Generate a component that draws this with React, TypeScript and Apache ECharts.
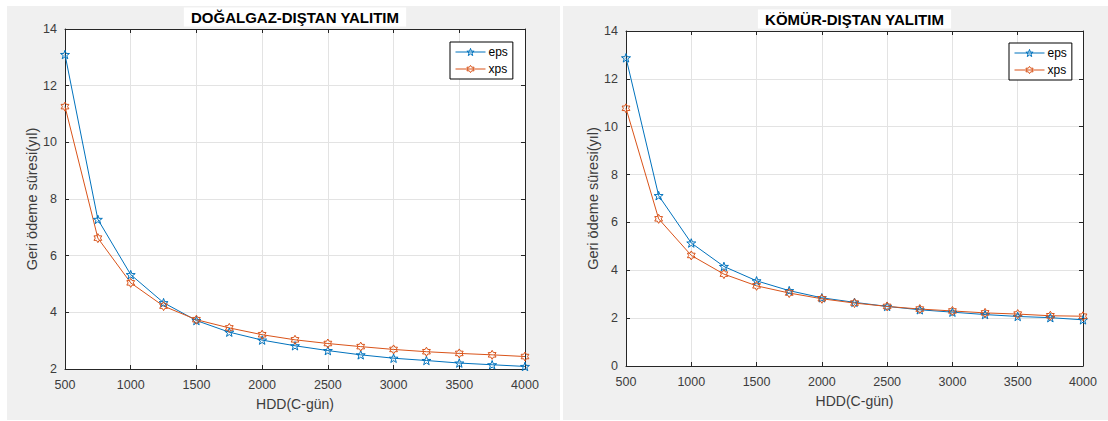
import React, { useEffect, useRef } from "react";
import * as echarts from "echarts";

const hdd = [500, 750, 1000, 1250, 1500, 1750, 2000, 2250, 2500, 2750, 3000, 3250, 3500, 3750, 4000];
const gasEps = [13.1, 7.28, 5.33, 4.34, 3.71, 3.3, 3.02, 2.82, 2.65, 2.5, 2.38, 2.3, 2.21, 2.15, 2.09];
const gasXps = [11.26, 6.62, 5.04, 4.22, 3.74, 3.45, 3.21, 3.03, 2.9, 2.79, 2.69, 2.61, 2.55, 2.5, 2.44];
const coalEps = [12.88, 7.12, 5.14, 4.16, 3.56, 3.15, 2.85, 2.66, 2.49, 2.35, 2.25, 2.15, 2.07, 2.02, 1.93];
const coalXps = [10.77, 6.15, 4.62, 3.84, 3.35, 3.05, 2.81, 2.63, 2.49, 2.38, 2.3, 2.22, 2.17, 2.1, 2.08];
const titles = ["DOĞALGAZ-DIŞTAN YALITIM", "KÖMÜR-DIŞTAN YALITIM"];
const xName = "HDD(C-gün)";
const yName = "Geri ödeme süresi(yıl)";

const BLUE = "#0072BD";
const ORANGE = "#D95319";
const AX = "#262626";
const LBL = "#3c3c3c";
const FONT = "Liberation Sans, Arial, sans-serif";

const STAR =
  "path://M0,-10 L2.35,-3.24 L9.51,-3.09 L3.8,1.24 L5.88,8.09 L0,4 L-5.88,8.09 L-3.8,1.24 L-9.51,-3.09 L-2.35,-3.24 Z";
const HEX =
  "path://M0,-10 L2.89,-5 L8.66,-5 L5.77,0 L8.66,5 L2.89,5 L0,10 L-2.89,5 L-8.66,5 L-5.77,0 L-8.66,-5 L-2.89,-5 Z";

const grids = [
  { left: 65, top: 29, width: 460, height: 340 },
  { left: 626, top: 31, width: 457, height: 335 },
];
const yRanges = [
  { min: 2, max: 14 },
  { min: 0, max: 14 },
];

export default function App() {
  const ref = useRef<HTMLDivElement>(null);
  useEffect(() => {
    if (!ref.current) return;
    const chart = echarts.init(ref.current, null, { renderer: "svg" });
    const xAxis: any[] = [];
    const yAxis: any[] = [];
    const series: any[] = [];
    const legend: any[] = [];
    const graphic: any[] = [
      { type: "rect", shape: { x: 7, y: 6, width: 553, height: 414 }, style: { fill: "#f0f0f0" }, z: -10 },
      { type: "rect", shape: { x: 563, y: 6, width: 545, height: 414 }, style: { fill: "#f0f0f0" }, z: -10 },
    ];
    const data = [
      [gasEps, gasXps],
      [coalEps, coalXps],
    ];
    grids.forEach((g, i) => {
      const xBase = {
        type: "value",
        gridIndex: i,
        min: 500,
        max: 4000,
        interval: 500,
        axisLine: { show: true, onZero: false, lineStyle: { color: AX, width: 1 } },
        axisTick: { show: true, inside: true, length: 4, lineStyle: { color: AX } },
      };
      xAxis.push({
        ...xBase,
        position: "bottom",
        name: xName,
        nameLocation: "middle",
        nameGap: 28,
        nameTextStyle: { fontSize: 14, color: LBL, fontFamily: FONT },
        axisLabel: { fontSize: 12.5, color: LBL, fontFamily: FONT, margin: 9, formatter: (v: number) => String(v) },
        splitLine: { show: true, lineStyle: { color: "#e3e3e3", width: 1 } },
      });
      xAxis.push({
        ...xBase,
        position: "top",
        axisLabel: { show: false },
        splitLine: { show: false },
      });
      const yBase = {
        type: "value",
        gridIndex: i,
        min: yRanges[i].min,
        max: yRanges[i].max,
        interval: 2,
        axisLine: { show: true, onZero: false, lineStyle: { color: AX, width: 1 } },
        axisTick: { show: true, inside: true, length: 4, lineStyle: { color: AX } },
      };
      yAxis.push({
        ...yBase,
        position: "left",
        name: yName,
        nameLocation: "middle",
        nameGap: i === 0 ? 26 : 24,
        nameTextStyle: { fontSize: 14.5, color: LBL, fontFamily: FONT },
        axisLabel: { fontSize: 12.5, color: LBL, fontFamily: FONT, margin: 8 },
        splitLine: { show: true, lineStyle: { color: "#e3e3e3", width: 1 } },
      });
      yAxis.push({
        ...yBase,
        position: "right",
        axisLabel: { show: false },
        splitLine: { show: false },
      });
      const mk = (name: string, vals: number[], color: string, sym: string) => ({
        type: "line",
        name,
        xAxisIndex: i * 2,
        yAxisIndex: i * 2,
        data: hdd.map((x, k) => [x, vals[k]]),
        symbol: sym,
        symbolSize: 9,
        symbolKeepAspect: true,
        showAllSymbol: true,
        lineStyle: { color, width: 1 },
        itemStyle: { color: "rgba(255,255,255,0)", borderColor: color, borderWidth: 1 },
        color,
        z: 3,
      });
      series.push(mk("eps", data[i][0], BLUE, STAR));
      series.push(mk("xps", data[i][1], ORANGE, HEX));
      legend.push({
        data: [
          {
            name: "eps",
            itemStyle: { color: "rgba(255,255,255,0)", borderColor: BLUE, borderWidth: 1 },
            lineStyle: { color: BLUE, width: 1 },
          },
          {
            name: "xps",
            itemStyle: { color: "rgba(255,255,255,0)", borderColor: ORANGE, borderWidth: 1 },
            lineStyle: { color: ORANGE, width: 1 },
          },
        ],
        orient: "vertical",
        left: i === 0 ? 450 : 1009,
        top: i === 0 ? 42 : 43,
        backgroundColor: "#fff",
        borderColor: "#000",
        borderWidth: 1,
        borderRadius: 0,
        padding: [4, 5, 4, 5],
        itemGap: 5,
        itemWidth: 30,
        itemHeight: 9,
        selectedMode: false,
        textStyle: { fontSize: 12, color: "#000", fontFamily: FONT, padding: [0, 0, 0, -2] },
      });
      const cx = g.left + g.width / 2;
      const ty = i === 0 ? 17 : 19;
      graphic.push({
        type: "text",
        x: cx,
        y: ty,
        z: 5,
        style: {
          text: titles[i],
          fill: "#000",
          font: `bold 15px ${FONT}`,
          align: "center",
          verticalAlign: "middle",
          backgroundColor: "#fff",
          padding: [2, 7, 2, 7],
        },
      });
    });

    chart.setOption({
      animation: false,
      backgroundColor: "#fff",
      grid: grids.map((g) => ({ ...g, show: true, backgroundColor: "#fff", borderWidth: 0, containLabel: false })),
      xAxis,
      yAxis,
      series,
      legend,
      graphic,
    });
    return () => chart.dispose();
  }, []);
  return (
    <div
      ref={ref}
      style={{ position: "fixed", left: 0, top: 0, width: 1108, height: 421 }}
    />
  );
}
